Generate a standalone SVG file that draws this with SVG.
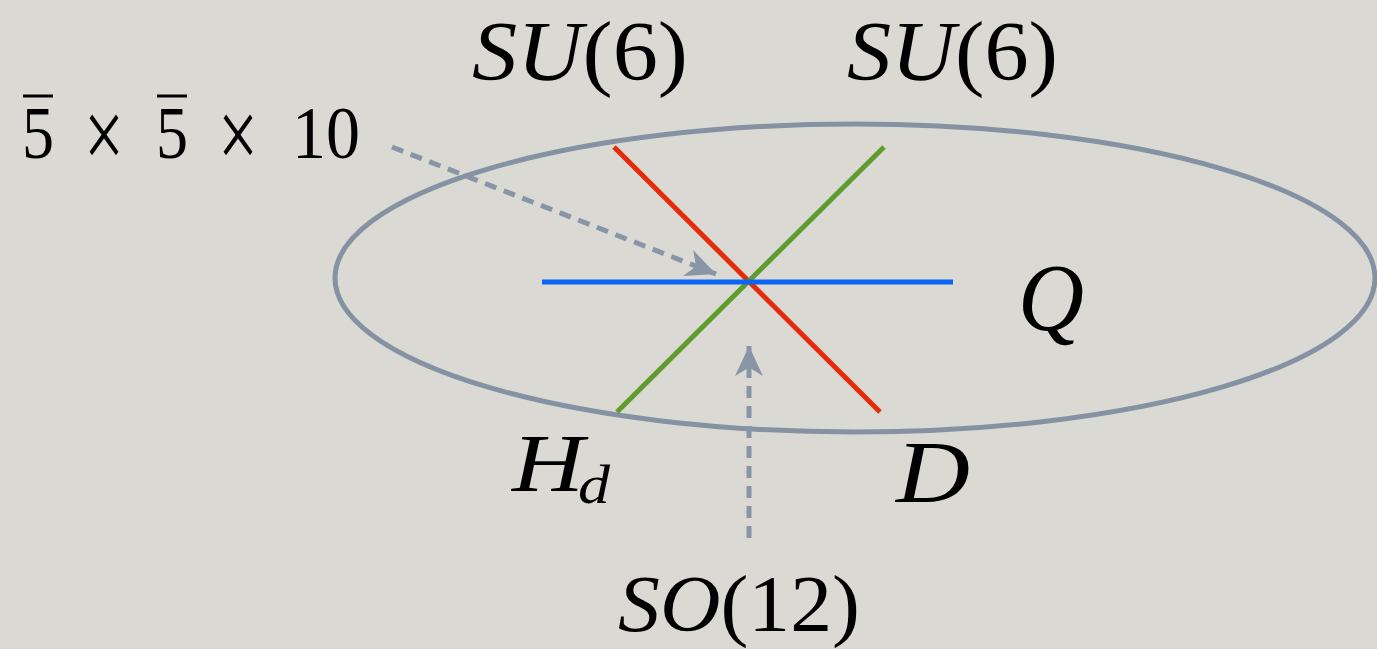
<svg xmlns="http://www.w3.org/2000/svg" width="1377" height="649" viewBox="0 0 1377 649">
<defs>
<style>
.t{font-family:"Liberation Serif","DejaVu Serif",serif;fill:#000;}
.i{font-style:italic;}
.dash{stroke:#8795a6;stroke-width:5;stroke-dasharray:12 8;fill:none;}
.bar{stroke:#000;stroke-width:3;}
</style>
<marker id="ah" markerUnits="userSpaceOnUse" markerWidth="30" markerHeight="30" viewBox="0 0 28 28" refX="28" refY="14" orient="auto">
<path d="M0,1 L28,14 L0,27 L8,14 z" fill="#8795a6"/>
</marker>
</defs>
<rect width="1377" height="649" fill="#dbd9d3"/>
<g id="ellipse">
<ellipse cx="855" cy="278" rx="520" ry="154" fill="none" stroke="#8592a3" stroke-width="5"/>
</g>
<g id="lines">
<line x1="614" y1="147" x2="880" y2="412" stroke="#e62b0a" stroke-width="5"/>
<line x1="884" y1="147" x2="617" y2="412" stroke="#5f9b2d" stroke-width="5"/>
<line x1="542" y1="282" x2="953" y2="282" stroke="#0a64f5" stroke-width="5"/>
</g>
<g id="connectors">
<line class="dash" x1="392" y1="147" x2="716" y2="274" marker-end="url(#ah)"/>
<line class="dash" x1="749" y1="538" x2="749" y2="346" marker-end="url(#ah)"/>
</g>
<g id="label-su6-left">
<text class="t" x="472" y="80" font-size="84" textLength="216" lengthAdjust="spacingAndGlyphs"><tspan class="i">SU</tspan>(6)</text>
</g>
<g id="label-su6-right">
<text class="t" x="847" y="80" font-size="84" textLength="211" lengthAdjust="spacingAndGlyphs"><tspan class="i">SU</tspan>(6)</text>
</g>
<g id="label-rep">
<text class="t" x="22" y="158" font-size="74" textLength="32" lengthAdjust="spacingAndGlyphs">5</text>
<line class="bar" x1="23" y1="96" x2="53" y2="96"/>
<text class="t" x="84" y="168" font-size="100" textLength="40" lengthAdjust="spacingAndGlyphs">×</text>
<text class="t" x="156" y="158" font-size="74" textLength="32" lengthAdjust="spacingAndGlyphs">5</text>
<line class="bar" x1="157" y1="96" x2="187" y2="96"/>
<text class="t" x="218" y="168" font-size="100" textLength="40" lengthAdjust="spacingAndGlyphs">×</text>
<text class="t" x="292" y="158" font-size="74" textLength="68" lengthAdjust="spacingAndGlyphs">10</text>
</g>
<g id="label-q">
<text class="t i" x="1018" y="330" font-size="96" textLength="66" lengthAdjust="spacingAndGlyphs">Q</text>
</g>
<g id="label-hd">
<text class="t i" x="512" y="491" font-size="82" textLength="72" lengthAdjust="spacingAndGlyphs">H</text>
<text class="t i" x="578" y="503" font-size="54" textLength="32" lengthAdjust="spacingAndGlyphs">d</text>
</g>
<g id="label-d">
<text class="t i" x="896" y="502" font-size="88" textLength="74" lengthAdjust="spacingAndGlyphs">D</text>
</g>
<g id="label-so12">
<text class="t" x="618" y="631" font-size="80" textLength="242" lengthAdjust="spacingAndGlyphs"><tspan class="i">SO</tspan>(12)</text>
</g>
</svg>
